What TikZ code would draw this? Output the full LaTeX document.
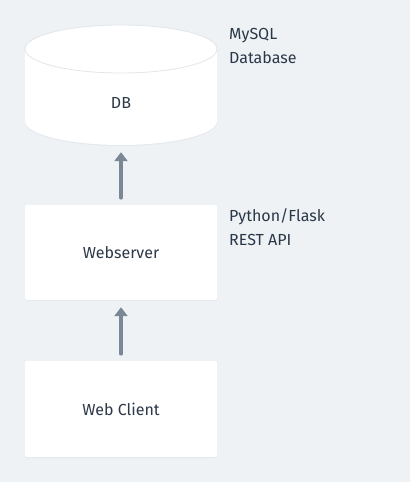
\documentclass[tikz,border=0pt]{standalone}
\usepackage{fontspec}
\setmainfont{Fira Sans}
\usepackage{xcolor}
\usepackage{tikz}
\usetikzlibrary{arrows.meta}

\definecolor{bgcol}{HTML}{EEF2F5}
\definecolor{inkcol}{HTML}{2B3847}
\definecolor{arrowcol}{HTML}{7A8896}
\definecolor{rimcol}{HTML}{E1E6EB}
\definecolor{shadecol}{HTML}{E3E8ED}

\tikzset{
  tierbox/.style={fill=white,rounded corners=2pt,minimum width=192pt,minimum height=95pt,inner sep=0pt},
  tiershade/.style={fill=shadecol,rounded corners=2pt},
  note/.style={anchor=north west,align=left,inner sep=0pt,font=\fontsize{16}{24}\selectfont,text=inkcol},
  flow/.style={-{Triangle[width=13pt,length=9pt]},line width=3.5pt,line cap=round,draw=arrowcol,shorten <=7pt,shorten >=7pt}
}

\begin{document}
\begin{tikzpicture}[x=1pt,y=-1pt,font=\fontsize{16}{20}\selectfont,text=inkcol]
\fill[bgcol] (0,0) rectangle (410,482);
\useasboundingbox (0,0) rectangle (410,482);

% database cylinder
\fill[shadecol] (121,122) ellipse [x radius=96pt,y radius=24pt];
\fill[white] (25,49) rectangle (217,121);
\fill[white] (121,121) ellipse [x radius=96pt,y radius=24pt];
\draw[rimcol,line width=0.8pt,fill=white] (121,49) ellipse [x radius=96pt,y radius=24pt];
\node[minimum width=192pt,minimum height=120pt,inner sep=0pt] (db) at (121,85) {};
\node (dblabel) at (121,103) {DB};

% tiers
\fill[tiershade] (25,206) rectangle (217,301);
\node[tierbox] (web) at (121,252.5) {Webserver};
\fill[tiershade] (25,362) rectangle (217,458);
\node[tierbox,minimum height=96pt] (client) at (121,409) {Web Client};

% side notes
\node[note] (dbnote) at (229,28) {MySQL\\Database};
\node[note] (webnote) at (229,208) {Python/Flask\\REST API};

% arrows
\draw[flow] (web.north) -- (db.south);
\draw[flow] (client.north) -- (web.south);
\end{tikzpicture}
\end{document}
